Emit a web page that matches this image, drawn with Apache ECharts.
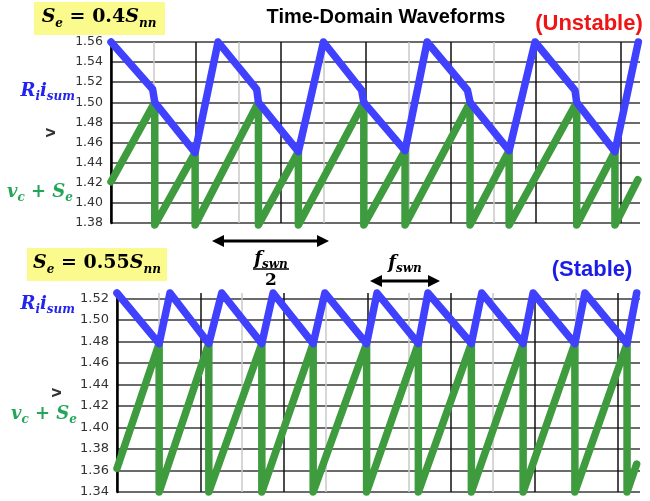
<!DOCTYPE html>
<html><head><meta charset="utf-8">
<script src="https://cdn.jsdelivr.net/npm/echarts@6/dist/echarts.min.js"></script>
<style>html,body{margin:0;padding:0;background:#fff}#c{width:650px;height:501px}</style>
</head><body><div id="c"></div>
<script>
// ---- Top panel: Se = 0.4 Snn (unstable) ----
const topBlueX  = [0, 0.98, 1.03, 1.98, 2.52, 3.43, 3.47, 4.41, 5.00, 5.90, 5.95, 6.92, 7.44, 8.39, 8.45, 9.37, 9.98, 10.92, 10.96, 11.86, 12.41];
const topBlueY  = [1.560, 1.513, 1.500, 1.450, 1.560, 1.513, 1.500, 1.451, 1.560, 1.512, 1.500, 1.452, 1.560, 1.512, 1.500, 1.452, 1.560, 1.512, 1.500, 1.451, 1.560];
const topGreenX = [0, 1.03, 1.03, 1.98, 1.98, 3.47, 3.47, 4.41, 4.41, 5.95, 5.95, 6.92, 6.92, 8.45, 8.45, 9.37, 9.37, 10.96, 10.96, 11.86, 11.86, 12.40];
const topGreenY = [1.421, 1.500, 1.378, 1.450, 1.378, 1.500, 1.378, 1.451, 1.378, 1.500, 1.378, 1.452, 1.378, 1.500, 1.378, 1.452, 1.378, 1.500, 1.378, 1.451, 1.378, 1.423];
// ---- Bottom panel: Se = 0.55 Snn (stable) ----
const botBlueX  = [0, 1.01, 1.27, 2.20, 2.51, 3.47, 3.74, 4.70, 4.98, 5.98, 6.23, 7.22, 7.45, 8.49, 8.74, 9.73, 9.97, 10.97, 11.21, 12.22, 12.45];
const botBlueY  = [1.525, 1.478, 1.525, 1.478, 1.525, 1.478, 1.525, 1.478, 1.525, 1.478, 1.525, 1.478, 1.525, 1.478, 1.525, 1.478, 1.525, 1.478, 1.525, 1.478, 1.525];
const botGreenX = [0, 1.01, 1.01, 2.20, 2.20, 3.47, 3.47, 4.70, 4.70, 5.98, 5.98, 7.22, 7.22, 8.49, 8.49, 9.73, 9.73, 10.97, 10.97, 12.22, 12.22, 12.45];
const botGreenY = [1.362, 1.478, 1.340, 1.478, 1.340, 1.478, 1.340, 1.478, 1.340, 1.478, 1.340, 1.478, 1.340, 1.478, 1.340, 1.478, 1.340, 1.478, 1.340, 1.478, 1.340, 1.366];
// axis ranges / ticks
const topYRange = [1.38, 1.56];
const botYRange = [1.34, 1.525];
const yStep = 0.02;
const topXRange = [0, 12.45];
const botXRange = [0, 12.53];

const zip = (xs, ys) => xs.map((x, i) => [x, ys[i]]);
const BLUE = '#4040ff', GREEN = '#3e9b3e';
const mathFont = "'DejaVu Serif', serif";

function xAxisCfg(gi, r) {
  return {
    type: 'value', gridIndex: gi, min: r[0], max: r[1], interval: 1,
    axisLine: {show: false}, axisTick: {show: false}, axisLabel: {show: false},
    splitLine: {show: true, showMaxLine: false, lineStyle: {color: ['#111', '#c8c8c8'], width: 1.5}}
  };
}
function yAxisCfg(gi, r, fs, hideMax) {
  return {
    type: 'value', gridIndex: gi, min: r[0], max: r[1], interval: yStep,
    name: 'V', nameLocation: 'middle', nameGap: 53,
    nameTextStyle: {fontFamily: 'DejaVu Sans', fontWeight: 'bold', fontSize: 12, color: '#333'},
    axisLine: {show: true, onZero: false, lineStyle: {color: '#000', width: 2.5}},
    axisTick: {show: false},
    axisLabel: {fontFamily: 'DejaVu Sans', fontSize: fs, color: '#333', margin: 8,
      showMaxLabel: !hideMax, formatter: v => v.toFixed(2)},
    splitLine: {show: true, showMaxLine: !hideMax, lineStyle: {color: '#3a3a3a', width: 1.5}}
  };
}
function lineSeries(xi, d, color) {
  return {
    type: 'line', xAxisIndex: xi, yAxisIndex: xi, data: d, symbol: 'none', clip: false,
    lineStyle: {color: color, width: 7.5, cap: 'round', join: 'round'}, silent: true
  };
}
function rich(color, big, small) {
  return {
    m: {fontFamily: mathFont, fontStyle: 'italic', fontWeight: 'bold', fontSize: big, lineHeight: big + 6, fill: color, verticalAlign: 'middle'},
    u: {fontFamily: mathFont, fontWeight: 'bold', fontSize: big, lineHeight: big + 6, fill: color, verticalAlign: 'middle'},
    s: {fontFamily: mathFont, fontStyle: 'italic', fontWeight: 'bold', fontSize: small, lineHeight: small, fill: color, verticalAlign: 'bottom'}
  };
}
function txt(x, y, text, opts) {
  return {type: 'text', x: x, y: y, z: 100,
    style: Object.assign({text: text, align: opts.align || 'center', verticalAlign: 'middle',
      textAlign: opts.align || 'center', textVerticalAlign: 'middle'}, opts.style)};
}
function arrow(x1, x2, y) {
  const h = 12, w = 6;
  return [
    {type: 'line', z: 100, shape: {x1: x1 + h - 2, y1: y, x2: x2 - h + 2, y2: y}, style: {stroke: '#000', lineWidth: 3}},
    {type: 'polygon', z: 100, shape: {points: [[x1, y], [x1 + h, y - w], [x1 + h, y + w]]}, style: {fill: '#000'}},
    {type: 'polygon', z: 100, shape: {points: [[x2, y], [x2 - h, y - w], [x2 - h, y + w]]}, style: {fill: '#000'}}
  ];
}

const graphics = [
  {type: 'rect', z: 90, shape: {x: 34, y: 2, width: 131, height: 33}, style: {fill: '#fbfa8c'}},
  {type: 'rect', z: 90, shape: {x: 27, y: 248, width: 140, height: 33}, style: {fill: '#fbfa8c'}},
  txt(99, 17, '{m|S}{s|e}{u| = 0.4}{m|S}{s|nn}', {style: {fill: '#000', rich: rich('#000', 19, 12)}}),
  txt(97, 263, '{m|S}{s|e}{u| = 0.55}{m|S}{s|nn}', {style: {fill: '#000', rich: rich('#000', 19, 12)}}),
  txt(386, 17, 'Time-Domain Waveforms', {style: {font: "bold 20px 'Liberation Sans', Arial, sans-serif", fill: '#000'}}),
  txt(589, 24, '(Unstable)', {style: {font: "bold 22px 'Liberation Sans', Arial, sans-serif", fill: '#f01414'}}),
  txt(592, 270, '(Stable)', {style: {font: "bold 22px 'Liberation Sans', Arial, sans-serif", fill: '#1c1ce8'}}),
  txt(75, 91, '{m|R}{s|i}{m|i}{s|sum}', {align: 'right', style: {fill: '#2424f0', rich: rich('#2424f0', 18, 12)}}),
  txt(75, 304, '{m|R}{s|i}{m|i}{s|sum}', {align: 'right', style: {fill: '#2424f0', rich: rich('#2424f0', 18, 12)}}),
  txt(73, 192, '{m|v}{s|c}{u| + }{m|S}{s|e}', {align: 'right', style: {fill: '#25a55a', rich: rich('#25a55a', 18, 12)}}),
  txt(77, 414, '{m|v}{s|c}{u| + }{m|S}{s|e}', {align: 'right', style: {fill: '#25a55a', rich: rich('#25a55a', 18, 12)}}),
  ...arrow(212, 329, 241),
  ...arrow(370, 440, 281),
  txt(271, 259, '{m|f}{s|swn}', {style: {fill: '#000', rich: rich('#000', 18, 12)}}),
  {type: 'line', z: 100, shape: {x1: 253, y1: 269, x2: 289, y2: 269}, style: {stroke: '#000', lineWidth: 1.5}},
  txt(271, 281, '2', {style: {font: "bold 17px 'DejaVu Serif', serif", fill: '#000'}}),
  txt(405, 263, '{m|f}{s|swn}', {style: {fill: '#000', rich: rich('#000', 18, 12)}})
];

const chart = echarts.init(document.getElementById('c'), null, {renderer: 'canvas'});
chart.setOption({
  animation: false,
  backgroundColor: '#fff',
  grid: [
    {left: 111, top: 42, width: 529, height: 181, outerBoundsMode: 'none'},
    {left: 117, top: 293, width: 523, height: 199, outerBoundsMode: 'none'}
  ],
  xAxis: [xAxisCfg(0, topXRange), xAxisCfg(1, botXRange)],
  yAxis: [yAxisCfg(0, topYRange, 12.5, false), yAxisCfg(1, botYRange, 13, true)],
  series: [
    lineSeries(0, zip(topGreenX, topGreenY), GREEN),
    lineSeries(0, zip(topBlueX, topBlueY), BLUE),
    lineSeries(1, zip(botGreenX, botGreenY), GREEN),
    lineSeries(1, zip(botBlueX, botBlueY), BLUE)
  ],
  graphic: graphics
});
</script></body></html>
